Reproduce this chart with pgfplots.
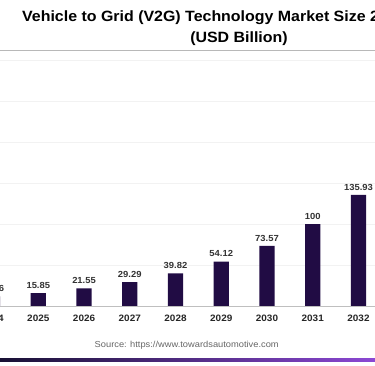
\documentclass[border=0pt]{standalone}
\usepackage{pgfplots}
\pgfplotsset{compat=1.18}
\usepackage{pgfplotstable}
\usepackage{fontspec}
\setmainfont{Liberation Sans}[FakeStretch=1.07]
\definecolor{barc}{RGB}{33,12,68}
\definecolor{gradL}{RGB}{24,16,52}
\definecolor{gradM}{RGB}{112,56,190}
\definecolor{gradR}{RGB}{140,72,212}
\pgfplotstableread{
x y lab
0 11.66 11.66
1 15.85 15.85
2 21.55 21.55
3 29.29 29.29
4 39.82 39.82
5 54.12 54.12
6 73.57 73.57
7 100 100
8 135.93 135.93
}\datatable
\begin{document}
\begin{tikzpicture}
\useasboundingbox (0,0) rectangle (375pt,366pt);
\clip (0,0) rectangle (375pt,366pt);
\fill[white] (0,0) rectangle (375pt,366pt);
\begin{axis}[
  at={(-39.46pt,60pt)}, anchor=south west,
  x=45.74pt, y=0.818pt,
  xmin=-0.7, xmax=9, ymin=0, ymax=300,
  axis x line*=bottom, axis y line*=left,
  y axis line style={draw=none},
  x axis line style={draw=black!25, line width=0.9pt, -},
  ytick={50,100,...,300}, yticklabels={},
  ymajorgrids, grid style={draw=black!5, line width=0.8pt},
  major tick length=0pt,
  xtick={0,...,8}, xticklabels={2024,2025,2026,2027,2028,2029,2030,2031,2032},
  xticklabel style={font=\bfseries\fontsize{9.3}{10}\selectfont, text=black!85, anchor=north, inner sep=0pt, yshift=-9pt},
  ybar, bar width=15.3pt,
  point meta=explicit symbolic,
  nodes near coords,
  nodes near coords style={font=\bfseries\fontsize{8.8}{10}\selectfont, text=black!80, anchor=south, inner sep=0pt, yshift=4.5pt},
  clip=false,
]
\addplot[fill=barc, draw=none] table[x=x, y=y, meta=lab] {\datatable};
\end{axis}
\node[anchor=base west, inner sep=0pt] at (22pt,344.7pt) {\bfseries\fontsize{14.9}{16}\selectfont Vehicle to Grid (V2G) Technology Market Size 2024 to 2034};
\node[anchor=base, inner sep=0pt] at (239pt,323pt) {\bfseries\fontsize{14.9}{16}\selectfont (USD Billion)};
\draw[black!28, line width=1pt] (0,315.7pt) -- (375pt,315.7pt);
\node[anchor=center, inner sep=0pt, text=black!60] at (186.7pt,21pt) {\fontsize{8.7}{10}\selectfont Source: https://www.towardsautomotive.com};
\shade[left color=gradL, middle color=gradM, right color=gradR] (0,4.3pt) rectangle (375pt,7.7pt);
\end{tikzpicture}
\end{document}
